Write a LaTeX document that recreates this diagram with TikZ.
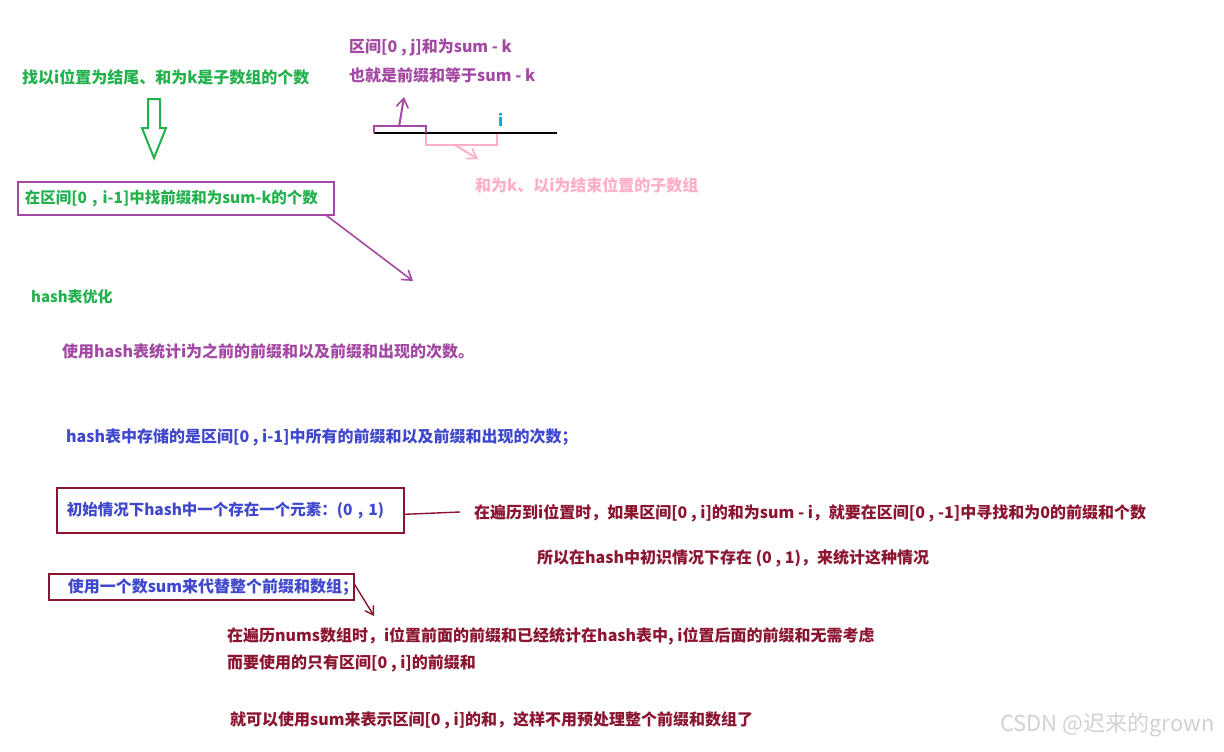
\documentclass[tikz,border=0pt]{standalone}
\usepackage{fontspec}
\setmainfont{Noto Sans CJK SC}
\usetikzlibrary{arrows.meta}
\definecolor{cgreen}{HTML}{22B14C}
\definecolor{cpurple}{HTML}{A349A4}
\definecolor{cpink}{HTML}{FFAEC9}
\definecolor{ccyan}{HTML}{00A2E8}
\definecolor{cblue}{HTML}{3F48CC}
\definecolor{cred}{HTML}{8B1530}
\definecolor{cgray}{HTML}{D2D2D2}
\begin{document}
\begin{tikzpicture}[x=1pt,y=-1pt,
  txt/.style={anchor=west,inner sep=0pt,font=\bfseries\fontsize{16}{16}\selectfont},
  boxed/.style={draw,line width=1.6pt,anchor=north west,inner ysep=0pt,align=left,font=\bfseries\fontsize{16}{16}\selectfont},
  barb/.style={-{Straight Barb[length=9pt,width=12pt,line width=1.6pt]}}]
\useasboundingbox (0,0) rectangle (1224,752);
\fill[white] (0,0) rectangle (1224,752);
% top-left
\node[txt,text=cgreen] (t1) at (22,77) {找以i位置为结尾、和为k是子数组的个数};
\draw[cgreen,line width=2pt,line join=miter] (148,99)--(160,99)--(160,128)--(166,128)--(154,158)--(142,128)--(148,128)--cycle;
\node[boxed,draw=cpurple,text=cgreen,font=\bfseries\fontsize{15.5}{15.5}\selectfont,minimum width=316pt,minimum height=33pt,text width=302pt,inner xsep=7pt] (b1) at (17,181) {在区间[0 , i-1]中找前缀和为sum-k的个数};
\coordinate (e1) at (413,281);
\draw[cpurple,line width=1.6pt,barb] ([xshift=-8pt]b1.south east) -- (e1);
% top diagram
\node[txt,text=cpurple] (p1) at (349,47) {区间[0 , j]和为sum - k};
\node[txt,text=cpurple] (p2) at (349,75) {也就是前缀和等于sum - k};
\coordinate (l0) at (374,133);
\coordinate (l1) at (557,133);
\draw[black,line width=2.6pt] (l0) -- (l1);
\draw[cpurple,line width=2pt] (374,133)--(374,126)--(426,126)--(426,133);
\coordinate (pa0) at (399,127);
\coordinate (pa1) at (404,97);
\draw[cpurple,line width=2pt,barb] (pa0) -- (pa1);
\draw[cpink,line width=2pt] (426,134)--(426,145)--(497,145)--(497,134);
\coordinate (ka0) at (455,145);
\coordinate (ka1) at (478,159);
\draw[cpink,line width=2pt,barb] (ka0) -- (ka1);
\node[txt,text=ccyan] (ii) at (498,120) {i};
\node[txt,text=cpink] (k1) at (475,185) {和为k、以i为结束位置的子数组};
% hash part
\node[txt,text=cgreen,font=\bfseries\fontsize{15}{15}\selectfont] (h1) at (31,297) {hash表优化};
\node[txt,text=cpurple] (h2) at (62,351) {使用hash表统计i为之前的前缀和以及前缀和出现的次数。};
\node[txt,text=cblue] (h3) at (66,437) {hash表中存储的是区间[0 , i-1]中所有的前缀和以及前缀和出现的次数；};
\node[boxed,draw=cred,text=cblue,font=\bfseries\fontsize{15.5}{15.5}\selectfont,minimum width=347pt,minimum height=45pt,text width=333pt,inner xsep=7pt] (b2) at (56,487) {\hspace*{3pt}初始情况下hash中一个存在一个元素：(0 , 1)};
\node[txt,text=cred] (r1) at (474,513) {在遍历到i位置时，如果区间[0 , i]的和为sum - i，就要在区间[0 , -1]中寻找和为0的前缀和个数};
\coordinate (r1a) at (460,512);
\draw[cred,line width=1.4pt] ([yshift=-4pt]b2.east) -- (r1a);
\node[txt,text=cred] (r2) at (537,558) {所以在hash中初识情况下存在 (0 , 1)，来统计这种情况};
\node[boxed,draw=cred,text=cblue,minimum width=305pt,minimum height=26pt,text width=267pt,inner xsep=19pt] (b3) at (48,573) {使用一个数sum来代替整个前缀和数组；};
\coordinate (e3) at (374,616);
\draw[cred,line width=1.4pt,-{Straight Barb[length=8pt,width=10pt,line width=1.4pt]}] ([xshift=-1pt,yshift=4pt]b3.east) -- (e3);
\node[txt,text=cred] (r3) at (227,636) {在遍历nums数组时，i位置前面的前缀和已经统计在hash表中, i位置后面的前缀和无需考虑};
\node[txt,text=cred] (r4) at (227,663) {而要使用的只有区间[0 , i]的前缀和};
\node[txt,text=cred] (r5) at (230,720) {就可以使用sum来表示区间[0 , i]的和，这样不用预处理整个前缀和数组了};
\node[anchor=west,inner sep=0pt,text=cgray,font=\fontsize{22}{22}\selectfont] (wm) at (1000,725) {CSDN @迟来的grown};
\end{tikzpicture}
\end{document}
